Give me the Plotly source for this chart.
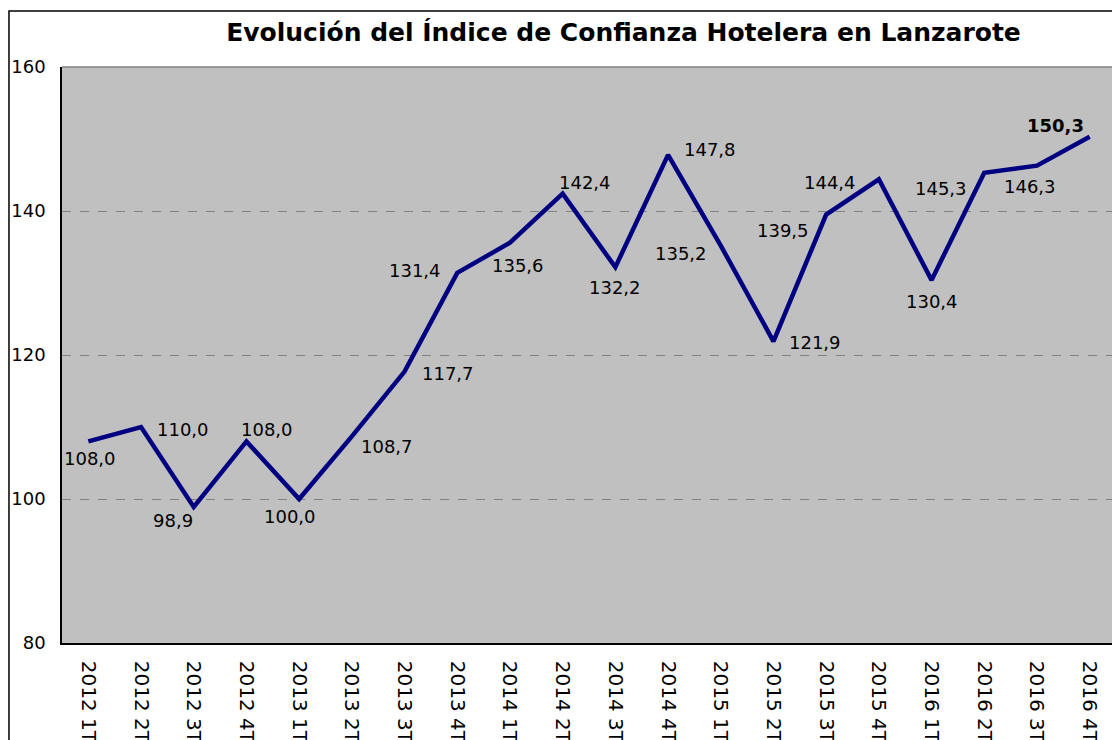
import plotly.graph_objects as go

categories = ["2012 1T", "2012 2T", "2012 3T", "2012 4T",
              "2013 1T", "2013 2T", "2013 3T", "2013 4T",
              "2014 1T", "2014 2T", "2014 3T", "2014 4T",
              "2015 1T", "2015 2T", "2015 3T", "2015 4T",
              "2016 1T", "2016 2T", "2016 3T", "2016 4T"]
values = [108.0, 110.0, 98.9, 108.0,
          100.0, 108.7, 117.7, 131.4,
          135.6, 142.4, 132.2, 147.8,
          135.2, 121.9, 139.5, 144.4,
          130.4, 145.3, 146.3, 150.3]
y_ticks = [80, 100, 120, 140, 160]

# label offsets in pixels (dx right, dy down)
label_offsets = [(2, 17), (42, 2), (-21, 14), (21, -12),
                 (-9, 17), (35, 10), (43, 2), (-42, -2),
                 (8, 23), (22, -11), (0, 20), (42, -5),
                 (-40, 8), (42, 1), (-43, 16), (-49, 3),
                 (0, 21), (-43, 16), (-7, 21), (-34, -11)]

FONT = "DejaVu Sans"
W, H = 1112, 732  # page body has an 8px margin in the browser

fig = go.Figure()
fig.add_trace(go.Scatter(
    x=categories, y=values, mode="lines",
    line=dict(color="#000080", width=4.5),
    hoverinfo="x+y", showlegend=False,
))

for i, (c, v) in enumerate(zip(categories, values)):
    dx, dy = label_offsets[i]
    txt = f"{v:.1f}".replace(".", ",")
    if i == len(values) - 1:
        txt = f"<b>{txt}</b>"
    fig.add_annotation(x=c, y=v, text=txt, showarrow=False,
                       xshift=dx, yshift=-dy,
                       font=dict(family=FONT, size=18, color="#000000"))

# outer frame
fig.add_shape(type="rect", xref="paper", yref="paper",
              x0=-0.0503, x1=1.0009, y0=-0.3, y1=1.0972,
              line=dict(color="#000000", width=1.5), layer="above")
# top border of plot area (gray)
fig.add_shape(type="line", xref="paper", yref="paper",
              x0=0, x1=1, y0=1, y1=1,
              line=dict(color="#808080", width=1.5), layer="above")

fig.update_layout(
    width=W, height=H,
    margin=dict(l=54, r=4, t=59, b=97),
    paper_bgcolor="#FFFFFF",
    plot_bgcolor="#C0C0C0",
    title=dict(text="<b>Evolución del Índice de Confianza Hotelera en Lanzarote</b>",
               x=615.5 / W, xref="container", xanchor="center",
               y=1 - 24 / H, yref="container", yanchor="middle",
               font=dict(family=FONT, size=25, color="#000000")),
    font=dict(family=FONT, size=18, color="#000000"),
)
fig.update_xaxes(
    type="category", range=[-0.5, len(categories) - 0.5],
    tickangle=90, showgrid=False, zeroline=False, automargin=False,
    showline=True, linecolor="#000000", linewidth=1.5,
    ticks="outside", ticklen=12, tickcolor="rgba(0,0,0,0)",
    tickfont=dict(family=FONT, size=20, color="#000000"),
)
fig.update_yaxes(
    range=[80, 160], tickvals=y_ticks, automargin=False,
    showgrid=True, gridcolor="#808080", griddash="dash", gridwidth=1,
    zeroline=False,
    showline=True, linecolor="#000000", linewidth=1.5,
    ticks="outside", ticklen=11, tickcolor="rgba(0,0,0,0)",
    tickfont=dict(family=FONT, size=18, color="#000000"),
)

fig.write_html("out.html")
